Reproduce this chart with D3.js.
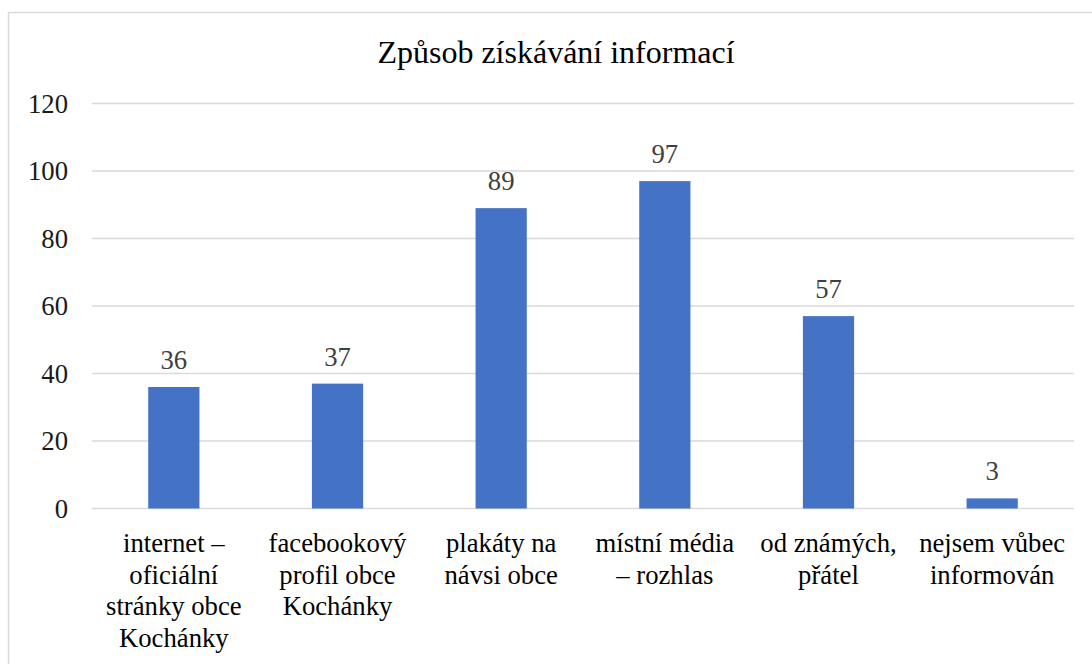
<!DOCTYPE html>
<html>
<head>
<meta charset="utf-8">
<script src="https://cdn.jsdelivr.net/npm/d3@7"></script>
<style>
  html, body { margin: 0; padding: 0; background: #fff; }
  svg { display: block; }
  #chart text, #chart tspan { font-family: "Liberation Serif" !important; }
</style>
</head>
<body>
<svg id="chart" width="1092" height="664"></svg>
<script>
const title = "Způsob získávání informací";
const categories = [
  "internet –\noficiální\nstránky obce\nKochánky",
  "facebookový\nprofil obce\nKochánky",
  "plakáty na\nnávsi obce",
  "místní média\n– rozhlas",
  "od známých,\npřátel",
  "nejsem vůbec\ninformován"
];
const values = [36, 37, 89, 97, 57, 3];
const yTicks = [0, 20, 40, 60, 80, 100, 120];

const svg = d3.select("#chart");

// frame
svg.append("rect")
  .attr("x", 8.5).attr("y", 12.5)
  .attr("width", 1100).attr("height", 700)
  .attr("fill", "#fff").attr("stroke", "#d9d9d9").attr("stroke-width", 1.5);

const plot = { left: 92, right: 1074, top: 103.5, bottom: 508.5 };

const x = d3.scaleBand()
  .domain(categories.map((d, i) => i))
  .range([plot.left, plot.right])
  .paddingInner(0.687).paddingOuter(0.3435);

const y = d3.scaleLinear().domain([0, 120]).range([plot.bottom, plot.top]);

// gridlines
svg.append("g").selectAll("line").data(yTicks).join("line")
  .attr("x1", plot.left).attr("x2", plot.right)
  .attr("y1", d => y(d)).attr("y2", d => y(d))
  .attr("stroke", "#d9d9d9").attr("stroke-width", 1.5);

// y tick labels
svg.append("g").selectAll("text").data(yTicks).join("text")
  .attr("x", 68).attr("y", d => y(d)).attr("dy", "0.34em")
  .attr("text-anchor", "end")
  .style("font-size", "26.7px").attr("fill", "#1a1a1a")
  .text(d => d);

// bars
svg.append("g").selectAll("rect").data(values).join("rect")
  .attr("x", (d, i) => x(i))
  .attr("width", x.bandwidth())
  .attr("y", d => y(d))
  .attr("height", d => y(0) - y(d))
  .attr("fill", "#4472C4");

// data labels
svg.append("g").selectAll("text").data(values).join("text")
  .attr("x", (d, i) => x(i) + x.bandwidth() / 2)
  .attr("y", d => y(d) - 18)
  .attr("text-anchor", "middle")
  .style("font-size", "26.7px").attr("fill", "#404040")
  .text(d => d);

// category labels
const cat = svg.append("g").selectAll("text").data(categories).join("text")
  .attr("text-anchor", "middle")
  .style("font-size", "26.7px").attr("fill", "#000");
cat.each(function(d, i) {
  const t = d3.select(this);
  d.split("\n").forEach((line, j) => {
    t.append("tspan")
      .attr("x", x(i) + x.bandwidth() / 2)
      .attr("y", 552 + j * 31.7)
      .text(line);
  });
});

// title
svg.append("text")
  .attr("x", 556).attr("y", 63)
  .attr("text-anchor", "middle")
  .style("font-size", "32px").attr("fill", "#000")
  .text(title);
</script>
</body>
</html>
